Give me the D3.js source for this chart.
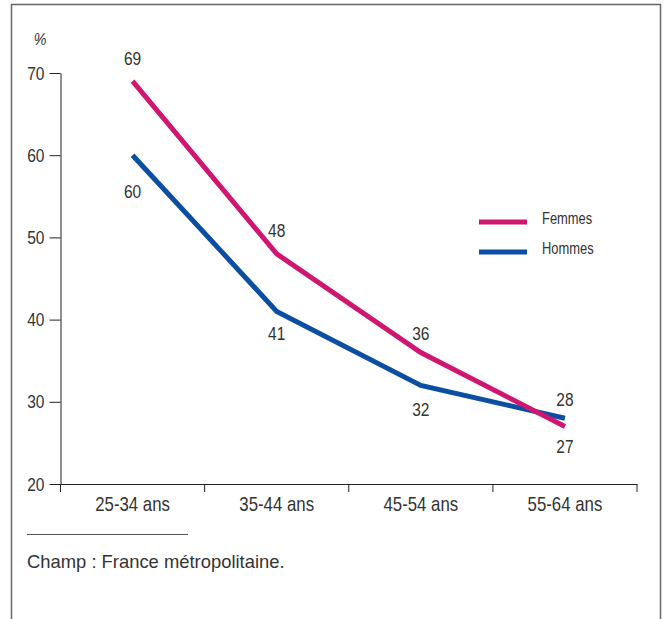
<!DOCTYPE html>
<html>
<head>
<meta charset="utf-8">
<script src="https://cdn.jsdelivr.net/npm/d3@7"></script>
<style>
  body { margin: 0; background: #fff; }
  svg text { fill: #333; font-family: 'Liberation Sans', Arial, sans-serif; }
</style>
</head>
<body>
<svg id="chart" width="664" height="619"></svg>
<script>
const categories = ['25-34 ans', '35-44 ans', '45-54 ans', '55-64 ans'];
const femmes = [69, 48, 36, 27];
const hommes = [60, 41, 32, 28];
const yTicks = [20, 30, 40, 50, 60, 70];
// label placement: offset of the value text from its point
const femmesDy = [-16, -17, -12, 27];
const hommesDy = [43, 29, 31, -12];

const svg = d3.select('#chart');
const sx = 0.84; // condensed look

// place a text at x,y squeezed horizontally
function squeeze(sel, x, y, s) {
  sel.attr('transform', (d, i) => {
    const px = typeof x === 'function' ? x(d, i) : x;
    const py = typeof y === 'function' ? y(d, i) : y;
    return `translate(${px},${py}) scale(${s || sx},1)`;
  });
}

// frame
svg.append('path')
  .attr('d', 'M11.5,619 V4.5 H660.5 V619')
  .attr('fill', 'none')
  .attr('stroke', '#666')
  .attr('stroke-width', 1.5);

const x = d3.scaleBand().domain(categories).range([60.5, 637]);
const y = d3.scaleLinear().domain([20, 70]).range([484, 73]);

// y axis
const yAxis = svg.append('g')
  .attr('transform', 'translate(60.5,0)')
  .call(d3.axisLeft(y).tickValues(yTicks).tickSize(11).tickSizeOuter(0));
yAxis.select('.domain').attr('stroke', '#222');
yAxis.selectAll('.tick line').attr('stroke', '#222');
yAxis.selectAll('.tick text')
  .attr('x', 0).attr('dy', null)
  .attr('transform', `translate(-16,6) scale(${sx},1)`)
  .style('font-size', '18.5px')
  .attr('fill', '#333');

// x axis
const xAxis = svg.append('g')
  .attr('transform', 'translate(0,484)')
  .call(d3.axisBottom(x).tickSize(0).tickSizeOuter(0));
xAxis.select('.domain').attr('stroke', '#222');
xAxis.selectAll('.tick text')
  .attr('y', 0).attr('dy', null)
  .attr('transform', `translate(0,27) scale(${sx},1)`)
  .style('font-size', '20px')
  .attr('fill', '#333');
const edges = categories.map(c => x(c)).concat([x.range()[1]]);
xAxis.selectAll('line.edge')
  .data(edges)
  .join('line')
  .attr('class', 'edge')
  .attr('x1', d => d).attr('x2', d => d)
  .attr('y1', 0).attr('y2', 8)
  .attr('stroke', '#222');

svg.append('text')
  .attr('text-anchor', 'middle')
  .style('font-size', '17px')
  .style('font-style', 'italic')
  .text('%')
  .call(squeeze, 40, 45);

const cx = c => x(c) + x.bandwidth() / 2;
const line = d3.line()
  .x((d, i) => cx(categories[i]))
  .y(d => y(d));

const series = [
  { name: 'Femmes', values: femmes, dy: femmesDy, color: '#cf1670' },
  { name: 'Hommes', values: hommes, dy: hommesDy, color: '#0b4ea2' }
];

series.slice().reverse().forEach(s => {
  svg.append('path')
    .datum(s.values)
    .attr('d', line)
    .attr('fill', 'none')
    .attr('stroke', s.color)
    .attr('stroke-width', 5);
});

series.forEach(s => {
  svg.selectAll(null)
    .data(s.values)
    .join('text')
    .attr('text-anchor', 'middle')
    .style('font-size', '18.5px')
    .text(d => d)
    .call(squeeze, (d, i) => cx(categories[i]), (d, i) => y(d) + s.dy[i]);
});

// legend
series.forEach((s, i) => {
  svg.append('line')
    .attr('x1', 479).attr('x2', 527)
    .attr('y1', 222 + i * 30).attr('y2', 222 + i * 30)
    .attr('stroke', s.color)
    .attr('stroke-width', 5);
  svg.append('text')
    .style('font-size', '17px')
    .text(s.name)
    .call(squeeze, 542, 224 + i * 30, 0.76);
});

// note
svg.append('line')
  .attr('x1', 27).attr('x2', 188)
  .attr('y1', 534.5).attr('y2', 534.5)
  .attr('stroke', '#555');
svg.append('text')
  .attr('x', 27)
  .attr('y', 568)
  .style('font-size', '18.4px')
  .text('Champ : France métropolitaine.');
</script>
</body>
</html>
